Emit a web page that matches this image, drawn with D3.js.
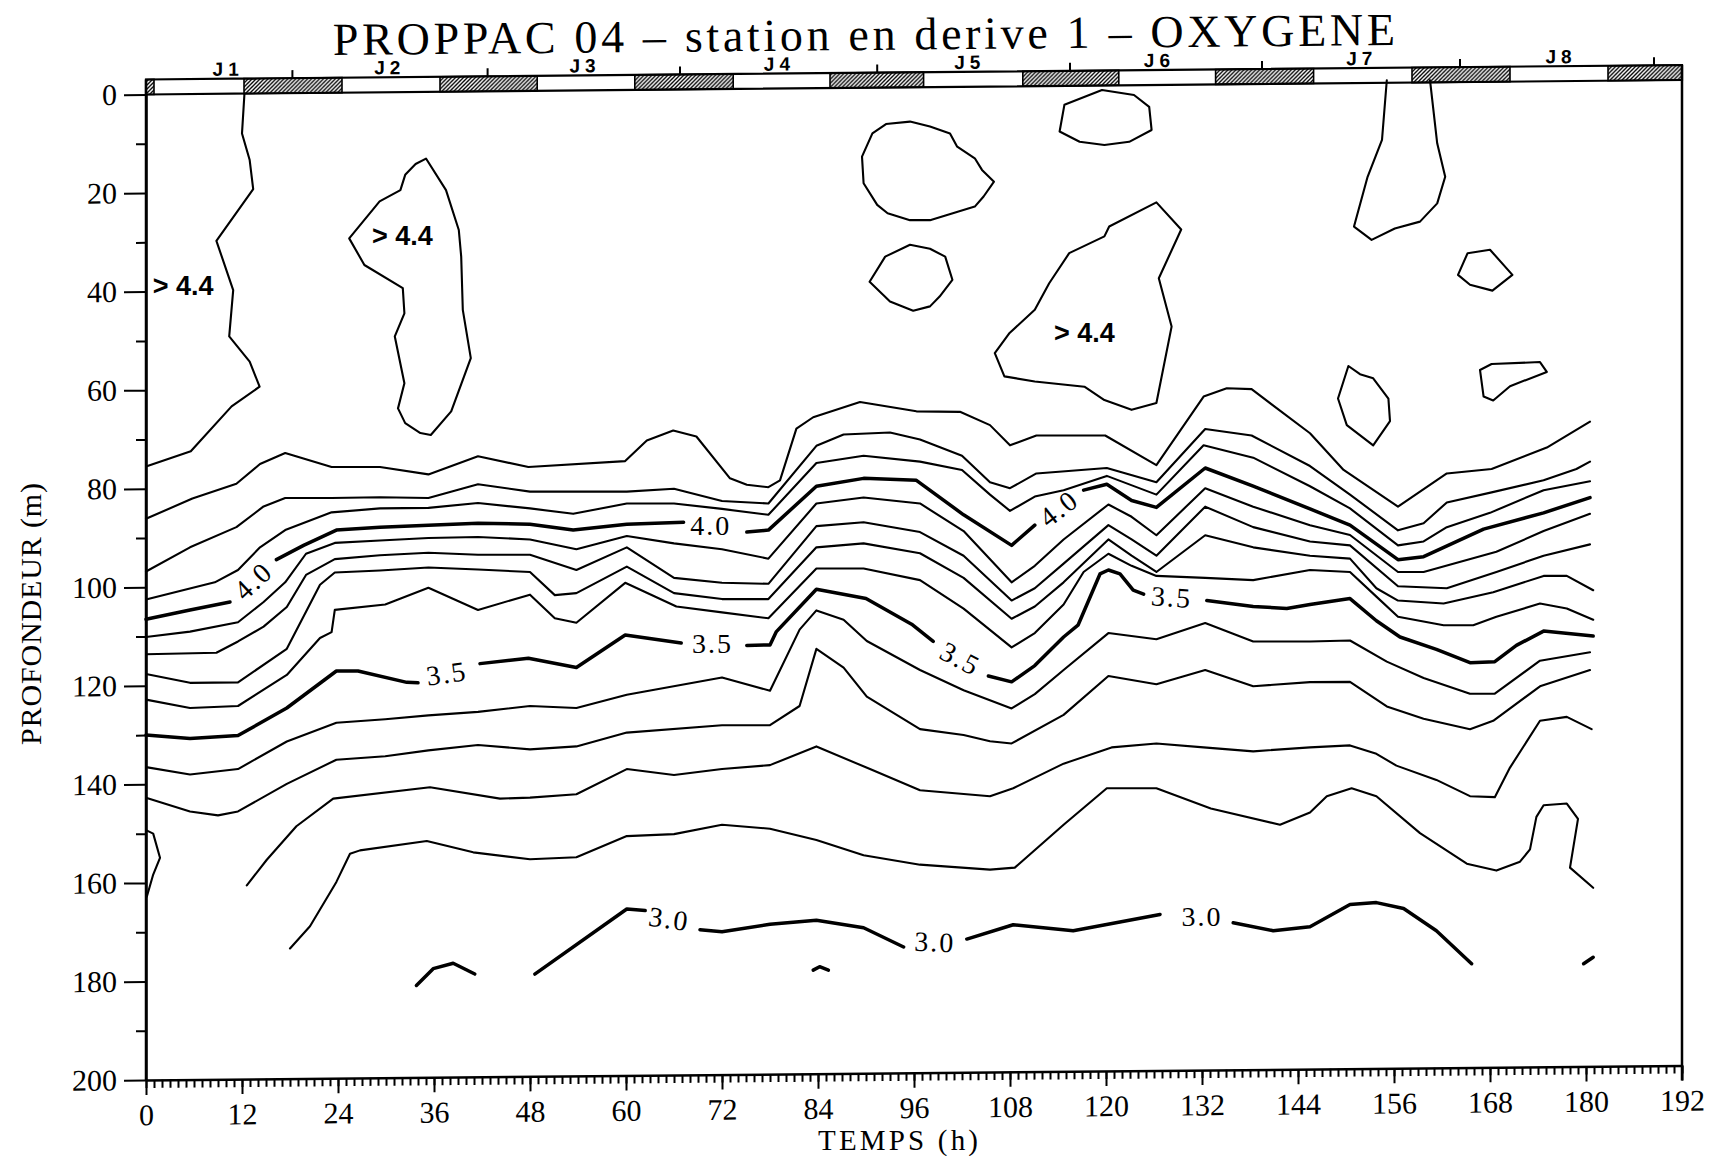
<!DOCTYPE html>
<html>
<head>
<meta charset="utf-8">
<script src="https://cdn.jsdelivr.net/npm/d3@7"></script>
<style>
  body { margin: 0; background: #fff; }
</style>
</head>
<body>
<svg id="chart" width="1723" height="1156"></svg>
<script>
// ---- data (hours, depth in m) ----
const hourTicks = [0, 12, 24, 36, 48, 60, 72, 84, 96, 108, 120, 132, 144, 156, 168, 180, 192];
const depthTicks = [0, 20, 40, 60, 80, 100, 120, 140, 160, 180, 200];

// day / night band
const nights = [[0, 1], [12.25, 24.5], [36.75, 48.9], [61.1, 73.4], [85.5, 97.2], [109.6, 121.6], [133.7, 145.95], [158.25, 170.5], [182.75, 192]];
const midnights = [18.3, 42.7, 66.75, 91.4, 115.5, 139.5, 164.25, 188.5];
const dayNames = ["J1", "J2", "J3", "J4", "J5", "J6", "J7", "J8"];
const dayCentres = [9.9, 30.1, 54.5, 78.8, 102.6, 126.3, 151.6, 176.5];

// isolines, each one a list of segments of [hour, depth]
const c44 = [[[0, 75.5], [5.6, 72.4], [10.7, 63.3], [14.2, 59.3], [12.96, 54.2], [10.4, 49.1], [10.9, 39.7], [8.8, 29.7], [13.4, 19.2], [12.96, 13.3], [12, 7.9], [12.3, 0]],
  [[155.1, -2.9], [154.5, 9.2], [152.7, 16.7], [151, 26.8], [153.2, 29.5], [156.1, 27.2], [159.25, 25.8], [161.4, 22.1], [162.4, 16.7], [161.4, 9.9], [160.5, -2.9]]];

const c43 = [[[0, 86.1], [5.8, 82], [11.3, 79], [14.25, 75], [17.4, 72.75], [23.2, 75.6], [29.25, 75.6], [35.3, 77.1], [41.5, 73.4], [47.8, 75.6], [59.9, 74.4], [62.6, 70.2], [65.9, 68.2], [68.8, 69.4], [73, 77.9], [75.1, 79.2], [77.8, 79.7], [79.25, 78.3], [81.3, 67.8], [83.4, 65.5], [89.25, 62.4], [96.3, 64.3], [101.75, 64.4], [105.5, 67.1], [108, 71.2], [111.3, 69.2], [119.9, 69.2], [126.3, 75.2], [132.2, 61.3], [135.1, 59.6], [138.2, 59.8], [145.5, 68.75], [149.7, 76.2], [156.5, 83.65], [162.6, 76.9], [168.2, 76], [175.1, 71.65], [180.5, 66.4]]];

const c42 = [[[0, 96.8], [5.5, 91.9], [11.3, 87.8], [14.7, 83.6], [17.4, 81.9], [23.2, 81.9], [29.25, 81.75], [35.3, 81.9], [41.5, 79.1], [48, 80.6], [60.1, 80.6], [66, 80], [72, 82.5], [77.8, 83], [83.8, 71.3], [87.2, 69], [93, 68.6], [96.75, 70], [102, 73.3], [105.5, 78.7], [108, 79.9], [111.3, 76.9], [120.1, 75.8], [126.3, 78.7], [132.4, 67.9], [138.2, 69.2], [145.5, 75.4], [150.5, 81.2], [156.5, 88.45], [159.7, 87], [162.6, 82.8], [168.2, 80.75], [174.7, 78.3], [178.8, 76], [180.5, 74.5]]];

const c41 = [[[0, 102.5], [8.6, 99], [11.5, 96.5], [14.25, 91.9], [17.4, 88.4], [23.2, 84.8], [29.25, 84], [35.3, 83.9], [41.5, 82.9], [48, 84], [53.4, 85.1], [60.1, 83], [66, 83], [72, 84.1], [77.8, 85.3], [83.8, 74.8], [89.7, 73.3], [96.75, 74.5], [102, 76.2], [105.5, 81.2], [108, 84.5], [111.1, 81.6], [114.7, 80.3], [120.1, 77.4], [126.3, 81.2], [132.2, 71.2], [138.4, 73.7], [145.5, 79.5], [150.5, 84], [156.5, 91.5], [159.7, 90.7], [162.6, 87.8], [168, 84.9], [174.7, 80.3], [180.5, 78.5]]];

const c40 = [[[0, 106.5], [5.5, 104.6], [10.5, 103]],
  [[16.3, 94.4], [19.7, 91.5], [23.8, 88.4], [29.25, 87.8], [35.3, 87.4], [41.5, 87], [48, 87.2], [53.4, 88.4], [60.1, 87.2], [67.2, 86.8]],
  [[75.1, 88.8], [77.8, 88.4], [83.8, 79.5], [89.7, 77.9], [96.3, 78.3], [102.2, 85.3], [108.2, 91.5], [111.1, 87.4]],
  [[117.2, 80.3], [120.1, 79.1], [123.2, 82.4], [126.3, 83.8], [132.4, 75.8], [138.4, 79.5], [145.5, 84.1], [150.5, 87.4], [156.5, 94.4], [159.7, 93.8], [167.2, 88.2], [174.7, 84.9], [180.5, 81.8]]];

const c39 = [[[0, 110.1], [5.5, 109], [11.5, 107.1], [14.7, 103], [17.4, 99], [20, 93.2], [23.6, 91], [29.25, 90.5], [35.3, 90], [41.5, 89.8], [48, 90.3], [53.8, 92.3], [60.1, 89.6], [66, 91.1], [72, 92.3], [77.8, 94.2], [83.8, 83], [89.7, 81.8], [96.75, 83], [102.2, 88.6], [108.2, 99], [111.1, 95.65], [114.7, 90.3], [120.3, 83.2], [123.2, 85.7], [126.3, 89.45], [132.4, 79.9], [138.4, 83.65], [145.5, 87.4], [150.5, 89.4], [156.5, 96.9], [159.7, 96.9], [168.8, 92.8], [174.7, 88.6], [180.5, 85.1]]];

const c38 = [[[0, 113.6], [8.8, 113.3], [11.5, 111], [14.7, 108], [17.6, 104], [20, 97.5], [23.6, 94.3], [29.25, 93.5], [35.3, 93], [41.5, 93.4], [48, 93.4], [53.8, 96.5], [60.1, 91.9], [66, 98.1], [72, 99.1], [77.8, 99.3], [83.8, 87.6], [89.7, 86.8], [96.75, 88.8], [102.2, 93.6], [108.2, 102.7], [111.1, 100.2], [114.7, 95.2], [120.3, 87.4], [123.2, 90.3], [126.3, 93.6], [132.4, 83.65], [138.4, 87.8], [145.5, 90.7], [150.5, 91.5], [156.5, 99.8], [162.6, 100.2], [168.8, 96.9], [174.7, 93.6], [180.5, 91.3]]];

const c37 = [[[0, 117.6], [5.5, 119.4], [11.5, 119.3], [17.6, 112.5], [21.75, 99.5], [23.6, 97], [29.25, 96.6], [35.3, 96], [41.5, 96.4], [48, 96.9], [51.1, 101.6], [53.8, 101.2], [60.1, 95.8], [66, 101.2], [72, 102.4], [77.8, 102.4], [83.8, 91.9], [89.7, 91.1], [96.75, 93.1], [102.2, 98.1], [108.2, 106.4], [111.1, 103.9], [114.7, 99], [120.3, 90.3], [123.2, 93.6], [126.3, 96.9], [132.4, 89.45], [138.4, 91.9], [145.5, 93.6], [150.5, 94.2], [153.8, 100.2], [156.5, 102.7], [162.2, 103.3], [168.4, 101], [174.7, 97.7], [177.6, 97.7], [180.9, 100.6]]];

const c36 = [[[0, 122.8], [5.5, 124.5], [11.5, 124.1], [17.6, 117.8], [21.75, 110.3], [23.2, 109.1], [23.6, 104.6], [29.9, 103.5], [35.3, 100.1], [41.5, 104.6], [48, 101.5], [51.1, 106.3], [53.8, 107.2], [59.9, 99.1], [66.3, 103.9], [72, 105.1], [77.8, 106.3], [83.8, 96.2], [89.7, 96.2], [96.75, 98.55], [102.2, 104.35], [108.2, 112.2], [111.1, 109.3], [114.7, 103.5], [117.2, 96.9], [120.3, 93.2], [123.2, 95.65], [126.3, 97.7], [132.4, 98.1], [138.4, 98.55], [145.5, 96.5], [150.5, 96.9], [153.8, 101.9], [156.5, 106], [162.2, 107.7], [165.9, 107.7], [168.8, 106], [174.25, 103.3], [177.6, 104.3], [180.9, 106.6]]];

const c35 = [[[0, 130], [5.5, 130.7], [11.5, 130.1], [17.6, 124.5], [23.8, 117], [26.5, 117], [32.6, 119.3], [34, 119.4]],
  [[41.75, 115.5], [47.8, 114.4], [53.8, 116.3], [59.9, 109.7], [66.9, 111.3]],
  [[75.1, 111.8], [78, 111.7], [78.8, 109], [83.8, 100.4], [90, 102.3], [95.7, 107.5], [98.4, 111]],
  [[105.3, 118], [108.2, 119.2], [111.1, 115.9], [114.7, 110.1], [116.5, 107.7], [119.25, 97.3], [120.3, 96.5], [121.75, 97.3], [123.4, 100.6], [124.7, 101.4]],
  [[132.6, 102.7], [138.4, 103.9], [142.6, 104.3], [145.5, 103.5], [150.5, 102.3], [153.8, 106.8], [156.75, 110.1], [161.3, 112.6], [165.5, 115.3], [168.6, 115.1], [171.3, 111.8], [174.7, 108.9], [180.9, 109.9]]];

const c34 = [[[0, 136.5], [5.5, 138], [11.5, 136.9], [17.6, 131.3], [23.8, 127.5], [29.9, 126.8], [35.3, 126], [41.5, 125.3], [48, 124.1], [53.8, 124.5], [60.1, 121.8], [72, 118.3], [78, 121], [81.7, 108.6], [83.8, 104.7], [87.2, 106.6], [90.1, 110.9], [96.75, 116.8], [102.2, 120.9], [108.2, 124.6], [111.1, 121.7], [114.7, 116.8], [120.3, 109.3], [126.3, 110.55], [132.4, 107.25], [138.4, 111], [145.5, 111], [150.5, 110.8], [155.1, 115.1], [159.7, 118.4], [165.5, 121.6], [168.6, 121.6], [174.25, 114.9], [180.5, 113.2]]];

const c33 = [[[0, 142.7], [5.5, 145.5], [9, 146.3], [11.5, 145.5], [17.6, 139.9], [23.8, 135], [29.9, 134.3], [35.3, 133.1], [41.5, 132], [48, 132.9], [53.8, 132.3], [60.1, 129.5], [72, 128], [78, 128], [81.7, 124.1], [83.8, 112.5], [87.2, 116.3], [90.1, 122.2], [96.75, 128.8], [102.2, 130], [105.5, 131.25], [108.2, 131.7], [114.7, 125.9], [120.3, 118], [126.3, 119.7], [132.4, 116.8], [138.4, 120.1], [145.5, 119.25], [150.5, 119.2], [155.1, 124.2], [159.7, 126.7], [165.5, 128.8], [168.4, 127.1], [174.25, 120.1], [180.5, 116.8]],
  [[0, 149.3], [0.9, 150], [1.75, 154.9], [0.9, 158.3], [0.1, 162.8]]];

const c32 = [[[12.6, 160.5], [15.1, 155.3], [18.8, 148.5], [23.4, 142.9], [35.5, 140.6], [44.25, 142.9], [48, 142.7], [53.8, 142], [60.1, 136.9], [66, 138.1], [72, 136.9], [78, 136.1], [83.8, 132.3], [90.5, 136.9], [96.75, 141.2], [105.5, 142.4], [108.4, 140.8], [114.7, 135.8], [120.7, 132.5], [126.3, 131.7], [132.2, 132.5], [138.4, 133.3], [145.5, 132.5], [150.5, 132.1], [153.8, 133.8], [156.3, 136.2], [161.3, 139.1], [165.5, 142.4], [168.6, 142.6], [170.5, 136.6], [174.25, 127.1], [177.6, 126.3], [180.7, 128.8]]];

const c31 = [[[18, 173.3], [20.5, 168.8], [23.8, 159.8], [25.5, 154.1], [26.75, 153.4], [35.1, 151.5], [40.9, 153.8], [48, 155.2], [53.8, 154.8], [60.1, 150.5], [66, 150.1], [72, 148.2], [78, 149], [83.8, 151.3], [89.7, 154.4], [96.75, 156.3], [105.5, 157.3], [108.6, 156.9], [114.7, 148.2], [120.1, 140.8], [126.3, 140.8], [133.1, 144.9], [141.75, 148.2], [145.5, 145.7], [147.6, 142.4], [150.7, 140.8], [153.8, 142.4], [159.25, 149.9], [165.1, 156.1], [168.8, 157.5], [171.75, 155.7], [173, 153.2], [173.8, 146.6], [174.7, 144.25], [177.6, 143.9], [179, 147], [178, 156.9], [180.9, 161]]];

const c30 = [[[33.8, 180.8], [35.9, 177.4], [38.4, 176.3], [41.1, 178.5]],
  [[48.6, 178.5], [60.1, 165.3], [62.4, 165.6]],
  [[69.25, 169.5], [72, 169.9], [78, 168.4], [83.8, 167.6], [89.7, 169.1], [94.7, 173]],
  [[102.6, 171.4], [108.4, 168.5], [115.9, 169.7], [126.75, 166.4]],
  [[135.9, 168.1], [140.9, 169.7], [145.5, 168.9], [150.5, 164.4], [153.8, 164], [157.2, 165.2], [161.3, 169.7], [165.7, 176.4]],
  [[83.4, 177.7], [84.2, 177], [85.3, 177.7]],
  [[179.7, 176.4], [180.9, 175.1]]];

// closed > 4.4 patches
const islands = [
  [[35, 13], [37.5, 19.4], [39.1, 27.5], [39.4, 32.9], [39.6, 43.7], [40.6, 53.5], [38.15, 64.3], [35.6, 69.1], [34.3, 68.7], [32.4, 66.7], [31.5, 63.7], [32.3, 58.6], [31.1, 49.1], [32.3, 44.4], [32.1, 39.3], [27.3, 34.6], [25.4, 29.2], [29.2, 21.7], [31.8, 19.4], [32.4, 16.3], [33.7, 14.1]],
  [[95.5, 5.5], [98, 6.5], [100.5, 7.9], [101.4, 10.6], [103.6, 12.95], [104.5, 15.3], [106, 17.7], [104.7, 20.7], [103.6, 22.75], [98, 25.5], [95.5, 25.5], [92.7, 24.1], [91.4, 22.4], [89.7, 18], [89.5, 12.6], [90.8, 7.9], [92.5, 6]],
  [[95.5, 30.5], [98, 31.3], [99.9, 32.9], [100.8, 37.6], [99.2, 41], [98, 43], [95.9, 43.9], [93, 42], [90.45, 38], [92.4, 32.9]],
  [[114.8, 2.1], [119.5, -0.9], [123.5, 0.1], [125.4, 2.5], [125.7, 7.2], [122.9, 9.6], [119.8, 10.25], [116.7, 9.6], [114.2, 7.5]],
  [[126.3, 21.9], [129.4, 27.4], [126.6, 37.3], [128.2, 47.1], [126.3, 62.6], [123.2, 64], [119.8, 62], [117.3, 59.3], [111.1, 58.25], [107.3, 57.2], [106.1, 52.5], [107.95, 48.4], [111.1, 43.7], [112.9, 38.3], [115.4, 32.2], [119.8, 28.8], [120.4, 26.8]],
  [[150.3, 55.1], [151.75, 56.75], [153.4, 57.6], [155.3, 61.7], [155.5, 66.3], [153.4, 71.2], [150.1, 67.1], [149, 61.7]],
  [[166.75, 55.9], [168.2, 54.7], [174.25, 54.3], [175.1, 56.3], [170.5, 59.2], [168.4, 62.1], [167.2, 61.3]],
  [[165.2, 32.2], [168, 31.5], [170.8, 36.6], [168.3, 39.8], [165.5, 38.6], [164, 36.6]]
];

const levels = [4.4, 4.3, 4.2, 4.1, 4.0, 3.9, 3.8, 3.7, 3.6, 3.5, 3.4, 3.3, 3.2, 3.1, 3.0];
const isolines = [c44, c43, c42, c41, c40, c39, c38, c37, c36, c35, c34, c33, c32, c31, c30];

// contour labels: text, hour, depth, angle
const labelText = ["4.0", "4.0", "4.0", "3.5", "3.5", "3.5", "3.5", "3.0", "3.0", "3.0"];
const labelHour = [13.4, 70.6, 114.1, 37.6, 70.8, 101.8, 128.2, 65.4, 98.6, 132];
const labelDepth = [98.7, 87.5, 84, 117.5, 111.5, 114.5, 102, 167.3, 172, 166.8];
const labelAngle = [-43, 0, -38, -8, 0, 28, 4, 8, 2, 0];
const maxHour = [0.85, 28.25, 113.5];
const maxDepth = [40.7, 30.5, 50.2];

// ---- drawing ----
const svg = d3.select('#chart');
svg.append('rect').attr('width', 1723).attr('height', 1156).attr('fill', '#fff');

const x = d3.scaleLinear().domain([0, 192]).range([146, 1682]);
const y = d3.scaleLinear().domain([0, 200]).range([94.5, 1080]);

const serif = '"Liberation Serif", "Times New Roman", serif';
const sans = '"Liberation Sans", Arial, sans-serif';

// hatch for nights
const defs = svg.append('defs');
defs.append('pattern')
    .attr('id', 'hatch')
    .attr('patternUnits', 'userSpaceOnUse')
    .attr('width', 4).attr('height', 4)
  .append('path')
    .attr('d', 'M-1,1 l2,-2 M0,4 l4,-4 M3,5 l2,-2')
    .attr('stroke', '#000')
    .attr('stroke-width', 1.3);

// the scanned frame leans a little: right side sits higher
const frame = svg.append('g')
    .attr('transform', 'translate(146,1080) skewY(-0.54) translate(-146,-1080)');

const bandTop = y(0) - 15;

frame.append('rect')
    .attr('x', x(0)).attr('y', bandTop)
    .attr('width', x(192) - x(0)).attr('height', 15)
    .attr('fill', '#fff').attr('stroke', '#000').attr('stroke-width', 2.2);

frame.selectAll('.night').data(nights).join('rect')
    .attr('class', 'night')
    .attr('x', d => x(d[0])).attr('y', bandTop)
    .attr('width', d => x(d[1]) - x(d[0])).attr('height', 15)
    .attr('fill', 'url(#hatch)').attr('stroke', '#000').attr('stroke-width', 1.6);

frame.selectAll('.midnight').data(midnights).join('line')
    .attr('class', 'midnight')
    .attr('x1', d => x(d)).attr('x2', d => x(d))
    .attr('y1', bandTop).attr('y2', bandTop - 8)
    .attr('stroke', '#000').attr('stroke-width', 2);

frame.selectAll('.day').data(dayNames).join('text')
    .attr('class', 'day')
    .attr('x', (d, i) => x(dayCentres[i]) + 3)
    .attr('y', bandTop - 3)
    .attr('text-anchor', 'middle')
    .attr('font-family', sans).attr('font-weight', 'bold')
    .attr('font-size', 19).attr('letter-spacing', 5)
    .text(d => d);

// left axis
const yAxis = frame.append('g')
    .attr('transform', `translate(${x(0)},0)`)
    .call(d3.axisLeft(y).tickValues(depthTicks).tickSize(22).tickPadding(7).tickSizeOuter(0));
frame.append('g')
    .attr('transform', `translate(${x(0)},0)`)
    .call(d3.axisLeft(y).tickValues(d3.range(10, 200, 20)).tickSize(10).tickFormat(''))
    .select('.domain').remove();

// bottom axis
const xAxis = frame.append('g')
    .attr('transform', `translate(0,${y(200)})`)
    .call(d3.axisBottom(x).tickValues(hourTicks).tickSize(15).tickPadding(9).tickSizeOuter(0));
frame.append('g')
    .attr('transform', `translate(0,${y(200)})`)
    .call(d3.axisBottom(x).tickValues(d3.range(0, 193)).tickSize(8).tickFormat(''))
    .select('.domain').remove();

[yAxis, xAxis].forEach(a => {
  a.selectAll('text')
      .attr('font-family', serif)
      .attr('font-size', 30)
      .attr('fill', '#000');
});
frame.selectAll('.tick line').attr('stroke', '#000').attr('stroke-width', 2);
frame.selectAll('.domain').attr('stroke', '#000').attr('stroke-width', 2.5);

// vertical frame lines
frame.append('line')
    .attr('x1', x(0)).attr('x2', x(0))
    .attr('y1', bandTop).attr('y2', y(200))
    .attr('stroke', '#000').attr('stroke-width', 2.5);
frame.append('line')
    .attr('x1', x(192)).attr('x2', x(192))
    .attr('y1', bandTop).attr('y2', y(200) + 15)
    .attr('stroke', '#000').attr('stroke-width', 2.5);

// isolines
const plot = svg.append('g').attr('fill', 'none').attr('stroke', '#000')
    .attr('stroke-linejoin', 'round').attr('stroke-linecap', 'round');
const line = d3.line().x(d => x(d[0])).y(d => y(d[1]));
const ring = d3.line().x(d => x(d[0])).y(d => y(d[1])).curve(d3.curveLinearClosed);

isolines.forEach((segs, i) => {
  const bold = [4.0, 3.5, 3.0].includes(levels[i]);
  segs.forEach(s => {
    plot.append('path')
        .attr('d', line(s))
        .attr('stroke-width', bold ? 3.5 : 2.1);
  });
});

islands.forEach(s => {
  plot.append('path').attr('d', ring(s)).attr('stroke-width', 2.1);
});

// contour values
svg.selectAll('.clabel').data(labelText).join('text')
    .attr('class', 'clabel')
    .attr('transform', (d, i) => `translate(${x(labelHour[i])},${y(labelDepth[i])}) rotate(${labelAngle[i]})`)
    .attr('text-anchor', 'middle')
    .attr('dominant-baseline', 'central')
    .attr('font-family', serif)
    .attr('font-size', 28)
    .attr('letter-spacing', 2)
    .text(d => d);

svg.selectAll('.maxlabel').data(maxHour).join('text')
    .attr('class', 'maxlabel')
    .attr('x', d => x(d))
    .attr('y', (d, i) => y(maxDepth[i]))
    .attr('font-family', sans).attr('font-weight', 'bold')
    .attr('font-size', 27)
    .text('> 4.4');

// titles
svg.append('text')
    .attr('x', 333).attr('y', 50)
    .attr('transform', 'rotate(-0.54,864,45)')
    .attr('font-family', serif).attr('font-size', 46)
    .attr('textLength', 1062).attr('lengthAdjust', 'spacing')
    .text('PROPPAC 04 \u2013 station en derive 1 \u2013 OXYGENE');

svg.append('text')
    .attr('transform', 'translate(41,614) rotate(-90)')
    .attr('text-anchor', 'middle')
    .attr('font-family', serif).attr('font-size', 30)
    .attr('textLength', 262).attr('lengthAdjust', 'spacing')
    .text('PROFONDEUR (m)');

svg.append('text')
    .attr('x', 818).attr('y', 1150)
    .attr('font-family', serif).attr('font-size', 29)
    .attr('textLength', 160).attr('lengthAdjust', 'spacing')
    .text('TEMPS (h)');
</script>
</body>
</html>
